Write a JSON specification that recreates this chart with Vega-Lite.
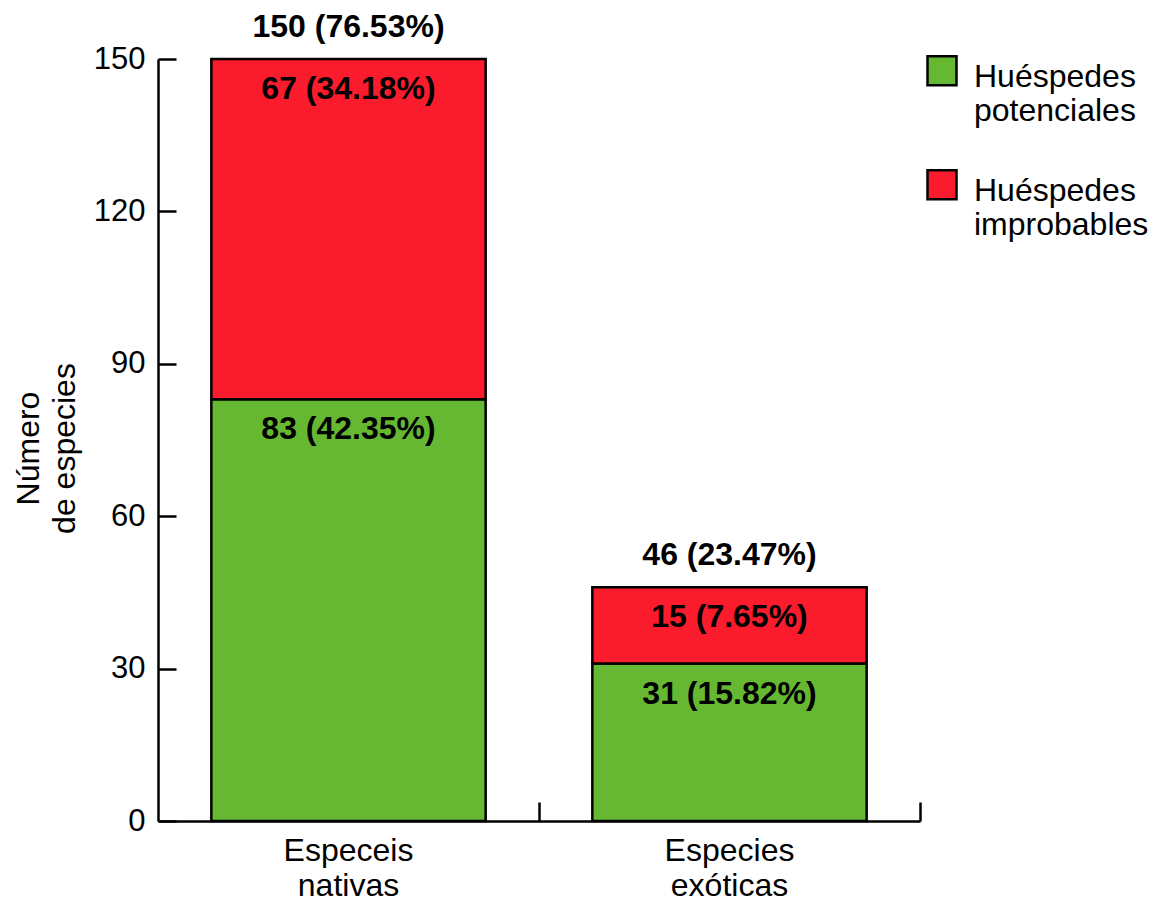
{
  "$schema": "https://vega.github.io/schema/vega-lite/v6.json",
  "width": 762,
  "height": 762,
  "autosize": {"type": "none"},
  "padding": {"left": 158, "top": 59, "right": 238, "bottom": 83},
  "background": "white",
  "config": {
    "view": {"stroke": null},
    "font": "Liberation Sans",
    "axis": {
      "grid": false,
      "domainColor": "black",
      "domainWidth": 2.5,
      "tickColor": "black",
      "tickWidth": 2.5,
      "labelColor": "black",
      "labelFont": "Liberation Sans",
      "labelFontSize": 31,
      "titleColor": "black",
      "titleFont": "Liberation Sans",
      "titleFontSize": 32,
      "titleFontWeight": "normal"
    },
    "legend": {
      "labelFont": "Liberation Sans",
      "labelColor": "black"
    }
  },
  "data": {
    "values": [
      {"tipo": "Especeis nativas", "grupo": "Huéspedes potenciales", "n": 83, "pct": 42.35},
      {"tipo": "Especeis nativas", "grupo": "Huéspedes improbables", "n": 67, "pct": 34.18},
      {"tipo": "Especies exóticas", "grupo": "Huéspedes potenciales", "n": 31, "pct": 15.82},
      {"tipo": "Especies exóticas", "grupo": "Huéspedes improbables", "n": 15, "pct": 7.65}
    ]
  },
  "encoding": {
    "x": {
      "field": "tipo",
      "type": "nominal",
      "sort": null,
      "scale": {"paddingInner": 0, "paddingOuter": 0},
      "axis": {
        "title": null,
        "labelAngle": 0,
        "labelFontSize": 32,
        "labelExpr": "split(datum.label, ' ')",
        "labelLineHeight": 35,
        "labelPadding": 33,
        "bandPosition": 1,
        "tickSize": -19
      }
    }
  },
  "layer": [
    {
      "mark": {"type": "bar", "stroke": "black", "strokeWidth": 2.5, "width": {"band": 0.72}},
      "encoding": {
        "y": {
          "field": "n",
          "type": "quantitative",
          "stack": "zero",
          "scale": {"domain": [0, 150], "nice": false},
          "axis": {
            "values": [0, 30, 60, 90, 120, 150],
            "tickSize": -18,
            "labelPadding": 31,
            "title": ["Número", "de especies"],
            "titleLineHeight": 36,
            "titlePadding": 12,
            "titleY": 389
          }
        },
        "color": {
          "field": "grupo",
          "type": "nominal",
          "scale": {
            "domain": ["Huéspedes potenciales", "Huéspedes improbables"],
            "range": ["#66b832", "#fa1c2c"]
          },
          "legend": {
            "orient": "none",
            "legendX": 768,
            "legendY": -13,
            "title": null,
            "padding": 0,
            "symbolType": "M-1,-0.4H1V1.6H-1Z",
            "symbolSize": 841,
            "symbolStrokeColor": "black",
            "symbolStrokeWidth": 2.5,
            "labelFontSize": 32,
            "labelExpr": "split(datum.label, ' ')",
            "labelLineHeight": 34,
            "labelBaseline": "top",
            "labelOffset": 16,
            "labelLimit": 0,
            "rowPadding": 33
          }
        },
        "order": {"field": "grupo", "sort": "descending"}
      }
    },
    {
      "transform": [
        {"calculate": "datum.n + ' (' + format(datum.pct, '.2f') + '%)'", "as": "etiqueta"}
      ],
      "mark": {"type": "text", "fontSize": 32, "fontWeight": "bold", "baseline": "alphabetic", "dy": 40, "color": "black"},
      "encoding": {
        "y": {"field": "n", "type": "quantitative", "stack": "zero"},
        "detail": {"field": "grupo"},
        "order": {"field": "grupo", "sort": "descending"},
        "text": {"field": "etiqueta"}
      }
    },
    {
      "transform": [
        {"aggregate": [{"op": "sum", "field": "n", "as": "total"}, {"op": "sum", "field": "pct", "as": "pct_total"}], "groupby": ["tipo"]},
        {"calculate": "datum.total + ' (' + format(datum.pct_total, '.2f') + '%)'", "as": "etiqueta"}
      ],
      "mark": {"type": "text", "fontSize": 32, "fontWeight": "bold", "baseline": "alphabetic", "dy": -22, "color": "black"},
      "encoding": {
        "y": {"field": "total", "type": "quantitative"},
        "text": {"field": "etiqueta"}
      }
    }
  ]
}
